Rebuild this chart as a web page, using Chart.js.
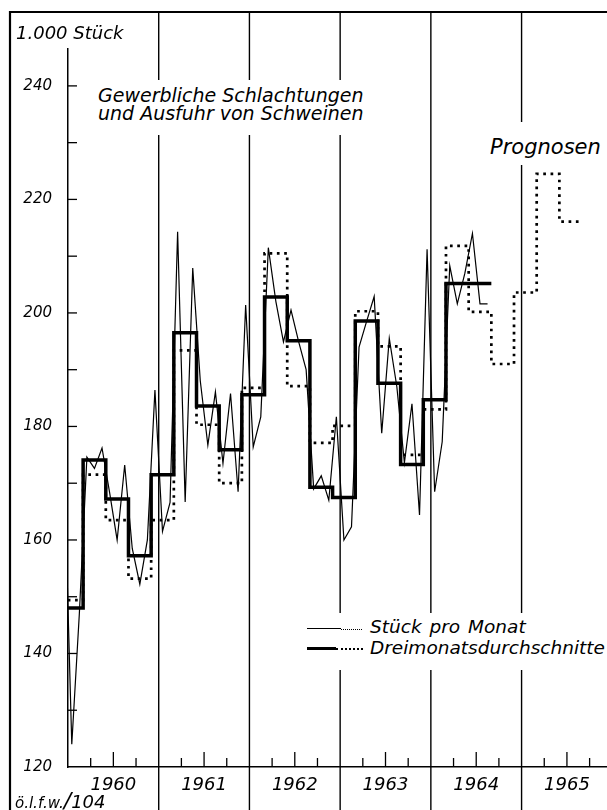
<!DOCTYPE html>
<html lang="de">
<head>
<meta charset="utf-8">
<title>Gewerbliche Schlachtungen und Ausfuhr von Schweinen</title>
<script src="https://cdn.jsdelivr.net/npm/chart.js@4"></script>
<style>
  html, body { margin: 0; padding: 0; background: #fff; }
  #wrap { position: relative; width: 607px; height: 810px; overflow: hidden; }
  #chart { position: absolute; left: 0; top: 0; }
  .lbl { position: absolute; font-family: "DejaVu Sans", sans-serif; font-style: italic; color: #000; white-space: nowrap; }
  .box { background: #fff; }
</style>
</head>
<body>
<div id="wrap">
  <canvas id="chart" width="607" height="810" style="width:607px;height:810px"></canvas>

  <div class="lbl" style="left:16px; top:24px; font-size:18px; line-height:18px;">1.000 Stück</div>

  <div class="lbl box" style="left:92px; top:80px; padding:6px 8px 13px 6px; font-size:19px; line-height:18px;">Gewerbliche Schlachtungen<br>und Ausfuhr von Schweinen</div>

  <div class="lbl box" style="left:486px; top:122px; padding:15px 8px 7px 4px; font-size:21px; line-height:21px;">Prognosen</div>

  <div class="lbl box" id="legend" style="left:303px; top:613px; width:304px; height:57px;">
    <div style="position:absolute; left:4px; top:15px; width:34px; border-top:1.4px solid #000;"></div>
    <div style="position:absolute; left:38px; top:15.5px; width:21px; border-top:1px dotted #000;"></div>
    <div style="position:absolute; left:4px; top:34px; width:29px; border-top:3.4px solid #000;"></div>
    <div style="position:absolute; left:33px; top:35px; width:27px; border-top:2px dotted #000;"></div>
    <div style="position:absolute; left:67px; top:3px; font-size:18.5px; line-height:21px; word-spacing:2px;">Stück pro Monat</div>
    <div style="position:absolute; left:67px; top:24px; font-size:18.5px; line-height:21px;">Dreimonatsdurchschnitte</div>
  </div>

  <div class="lbl" style="left:15px; top:791px; font-size:15px; line-height:20px;">ö.l.f.w.<span style="font-size:22px;">/</span><span style="font-size:18px;">104</span></div>
</div>

<script>
// Stück pro Monat (1.000), ab Dezember 1959
const monthly = [
  172,
  124, 147, 174.6, 172.6, 176.2, 168.4, 160, 173.2, 158.5, 152.2, 160, 186.4,      // 1960
  161.5, 166.6, 214.3, 166.7, 207.9, 188, 176.7, 186.1, 173.5, 185.8, 168.5, 201.4, // 1961
  176.4, 181.7, 211.5, 202, 194.9, 200.5, 195, 190, 169, 171.3, 167, 181.7,        // 1962
  160, 162.3, 194, 198.5, 202.9, 178.8, 195.5, 187, 173.6, 184, 164.4, 211.2,      // 1963
  168.5, 177.3, 208.3, 201.6, 207, 214, 201.6, 201.6                                // 1964
];

// Dreimonatsdurchschnitte (Dez-Feb, Mär-Mai, Jun-Aug, Sep-Nov), ab Dez 59 - Feb 60
const avgActual = [148, 174.1, 167.2, 157.2, 171.5, 196.5, 183.6, 175.9, 185.6, 202.8,
  195.1, 169.3, 167.5, 198.6, 187.6, 173.3, 184.7, 205.2, 205.2];

// Prognosen der Dreimonatsdurchschnitte, gleiche Zeiträume, bis Jun-Aug 65
const avgForecast = [149.4, 171.5, 163.5, 153.2, 163.5, 193.4, 180.3, 170, 186.8, 210.5,
  187.1, 177.1, 180.1, 200.3, 194.1, 175, 183, 211.8, 200.2, 191, 203.6, 224.5, 216.1];

const years = ["1960", "1961", "1962", "1963", "1964", "1965"];
const yTicks = [120, 140, 160, 180, 200, 220, 240];

const FONT = '"DejaVu Sans", sans-serif';

// months counted from 1 Jan 1960; each season starts one month before the quarter
function stepPoints(values) {
  const pts = values.map((v, i) => ({ x: 3 * i - 1, y: v }));
  pts.push({ x: 3 * values.length - 1, y: values[values.length - 1] });
  return pts;
}

const framePlugin = {
  id: "frame",
  beforeDatasetsDraw(chart) {
    const { ctx, chartArea, scales: { x, y } } = chart;
    ctx.save();
    ctx.strokeStyle = "#000";

    // outer frame, top and left
    ctx.lineWidth = 2.2;
    ctx.beginPath();
    ctx.moveTo(10, 810);
    ctx.lineTo(10, 12);
    ctx.lineTo(607, 12);
    ctx.stroke();

    // year separators
    ctx.lineWidth = 1.4;
    for (let i = 1; i < years.length; i++) {
      const px = x.getPixelForValue(12 * i);
      ctx.beginPath();
      ctx.moveTo(px, 12);
      ctx.lineTo(px, 810);
      ctx.stroke();
    }

    // quarter ticks on the time axis
    ctx.lineWidth = 1.3;
    for (let m = 3; m < x.max; m += 3) {
      if (m % 12 === 0) continue;
      const px = x.getPixelForValue(m);
      const len = m % 12 === 6 ? 15 : 9;
      ctx.beginPath();
      ctx.moveTo(px, chartArea.bottom);
      ctx.lineTo(px, chartArea.bottom - len);
      ctx.stroke();
    }

    // small inside ticks every 10 on the value axis
    for (let v = 130; v <= 240; v += 10) {
      const py = y.getPixelForValue(v);
      ctx.beginPath();
      ctx.moveTo(chartArea.left, py);
      ctx.lineTo(chartArea.left + 9, py);
      ctx.stroke();
    }
    ctx.restore();
  }
};

const ctx = document.getElementById("chart").getContext("2d");
new Chart(ctx, {
  type: "line",
  data: {
    datasets: [
      {
        label: "Stück pro Monat",
        data: monthly.map((v, i) => ({ x: i - 0.5, y: v })),
        borderColor: "#000",
        borderWidth: 1.2,
        pointRadius: 0,
        tension: 0
      },
      {
        label: "Dreimonatsdurchschnitte",
        data: stepPoints(avgActual),
        stepped: true,
        borderColor: "#000",
        borderWidth: 3.5,
        pointRadius: 0
      },
      {
        label: "Prognosen",
        data: stepPoints(avgForecast),
        stepped: true,
        borderColor: "#000",
        borderWidth: 2.7,
        borderDash: [2.7, 4.6],
        borderCapStyle: "butt",
        pointRadius: 0
      }
    ]
  },
  options: {
    responsive: false,
    animation: false,
    layout: { padding: { left: 10, top: 49, right: 0, bottom: 0 } },
    plugins: {
      legend: { display: false },
      tooltip: { enabled: false }
    },
    scales: {
      x: {
        type: "linear",
        min: 0,
        max: 71.3,
        afterFit: s => { s.height = 43; },
        afterBuildTicks: s => { s.ticks = years.map((yr, i) => ({ value: 12 * i + 6 })); },
        ticks: {
          callback: v => years[Math.round((v - 6) / 12)],
          color: "#000",
          font: { family: FONT, size: 18, style: "italic" },
          padding: 8,
          maxRotation: 0,
          autoSkip: false
        },
        grid: { drawOnChartArea: false, drawTicks: false },
        border: { color: "#000", width: 1.5 }
      },
      y: {
        min: 120,
        max: 246.5,
        afterFit: s => { s.width = 58; },
        afterBuildTicks: s => { s.ticks = yTicks.map(v => ({ value: v })); },
        ticks: {
          color: "#000",
          font: { family: FONT, size: 15, style: "italic" },
          padding: 16
        },
        grid: { drawOnChartArea: false, drawTicks: false },
        border: { color: "#000", width: 1.5 }
      }
    }
  },
  plugins: [framePlugin]
});
</script>
</body>
</html>
